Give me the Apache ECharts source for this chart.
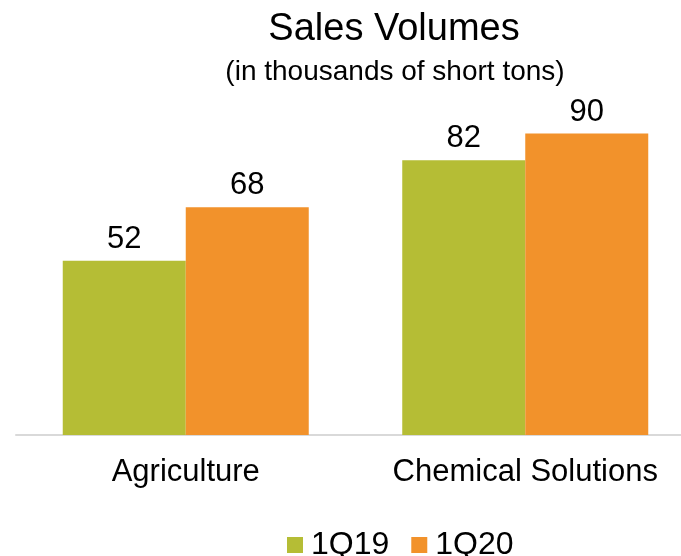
<!DOCTYPE html>
<html>
<head>
<meta charset="utf-8">
<script src="https://cdn.jsdelivr.net/npm/echarts@6/dist/echarts.min.js"></script>
<style>
  html, body { margin: 0; padding: 0; background: #fff; }
  #chart { width: 681px; height: 556px; }
</style>
</head>
<body>
<div id="chart"></div>
<script>
const categories = ["Agriculture", "Chemical Solutions"];
const seriesNames = ["1Q19", "1Q20"];
const values1Q19 = [52, 82];
const values1Q20 = [68, 90];

const chart = echarts.init(document.getElementById("chart"));
const font = "Liberation Sans, Arial, sans-serif";

const option = {
  animation: false,
  title: [
    {
      text: "Sales Volumes",
      left: 389,
      top: 6,
      textAlign: "center",
      textStyle: { fontFamily: font, fontSize: 38, fontWeight: "normal", color: "#000" }
    },
    {
      text: "(in thousands of short tons)",
      left: 390,
      top: 53,
      textAlign: "center",
      textStyle: { fontFamily: font, fontSize: 28, fontWeight: "normal", color: "#000" }
    }
  ],
  legend: {
    data: seriesNames,
    left: 282,
    top: 524,
    itemWidth: 16,
    itemHeight: 16,
    itemGap: 22,
    icon: "rect",
    textStyle: { fontFamily: font, fontSize: 32, color: "#000", padding: [0, 0, 0, 3] }
  },
  grid: { left: 16, right: -14, top: 100, bottom: 121, containLabel: false, outerBoundsMode: "none" },
  xAxis: {
    type: "category",
    data: categories,
    axisLine: { lineStyle: { color: "#D9D9D9", width: 2 } },
    axisTick: { show: false },
    axisLabel: { interval: 0, hideOverlap: false, fontFamily: font, fontSize: 31, color: "#000", margin: 22 }
  },
  yAxis: {
    type: "value",
    min: 0,
    max: 100,
    show: false,
    splitLine: { show: false }
  },
  series: [
    {
      name: seriesNames[0],
      type: "bar",
      data: values1Q19,
      barWidth: 123,
      barGap: "0%",
      itemStyle: { color: "#B5BD35" },
      label: { show: true, position: "top", distance: 6, fontFamily: font, fontSize: 31, color: "#000" }
    },
    {
      name: seriesNames[1],
      type: "bar",
      data: values1Q20,
      barWidth: 123,
      itemStyle: { color: "#F2922B" },
      label: { show: true, position: "top", distance: 6, fontFamily: font, fontSize: 31, color: "#000" }
    }
  ]
};
chart.setOption(option);
</script>
</body>
</html>
